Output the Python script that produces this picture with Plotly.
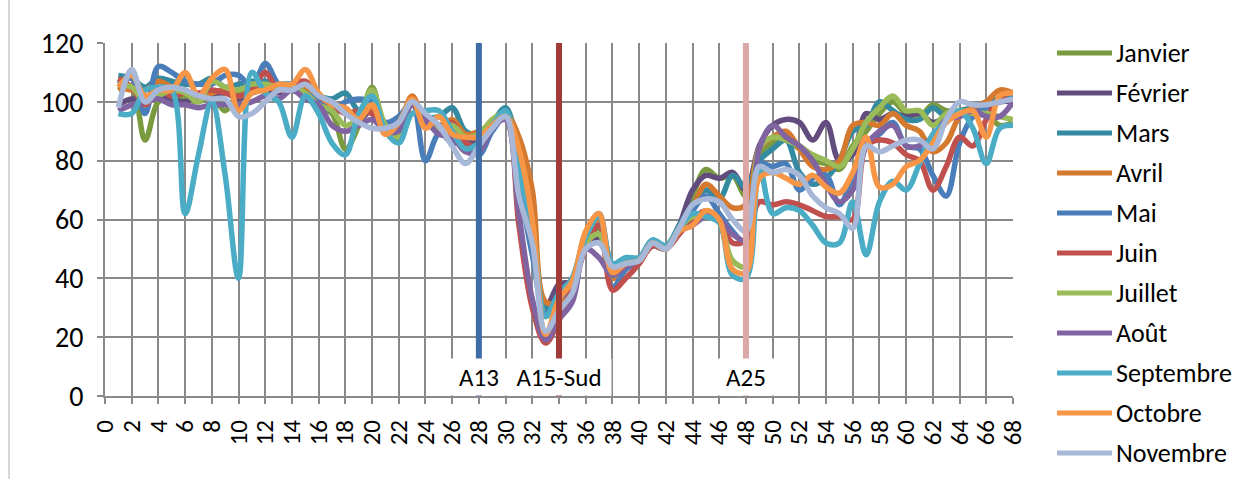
import plotly.graph_objects as go

# Station index along the route (category axis 0..68, measures start at 1)
stations = list(range(1, 69))
tick_values = list(range(0, 69, 2))
tick_labels = [str(v) for v in tick_values]

months = ["Janvier", "Février", "Mars", "Avril", "Mai", "Juin",
          "Juillet", "Août", "Septembre", "Octobre", "Novembre"]
month_colors = ["#7A9A40", "#624C7E", "#348AA0", "#D4792E", "#4A7EBB", "#C0504D",
                "#9BBB59", "#8064A2", "#4BACC6", "#F79646", "#A7B8D8"]

janvier = [104, 105, 87, 100, 101, 101, 100, 102, 97, 103, 104, 106, 105,
           104, 102, 98, 96, 84, 92, 105, 90, 87, 100, 93, 91, 91, 87, 88, 93, 95,
           78, 58, 28, 33, 38, 52, 57, 40, 45, 46, 52, 50, 57,
           68, 77, 74, 75, 68, 82, 86, 87, 84, 80, 79, 77, 85, 90, 96, 100, 96, 95, 99, 97, 97, 95, 96, 92, 93]
fevrier = [99, 101, 100, 102, 101, 100, 102, 101, 103, 101, 103, 104, 103,
           104, 102, 100, 97, 97, 94, 97, 91, 90, 100, 94, 91, 86, 87, 86, 93, 95,
           72, 50, 30, 38, 39, 50, 54, 42, 45, 46, 52, 50, 58,
           70, 75, 74, 76, 70, 85, 92, 94, 93, 87, 93, 80, 82, 96, 94, 96, 95, 96, 93, 95, 97, 97, 98, 100, 100]
mars = [109, 108, 105, 108, 107, 106, 106, 108, 105, 106, 107, 107, 106,
        106, 104, 102, 101, 103, 97, 98, 91, 90, 100, 95, 95, 98, 90, 89, 93, 98,
        82, 62, 30, 34, 40, 55, 62, 45, 47, 47, 53, 51, 58,
        65, 70, 67, 75, 71, 80, 84, 87, 76, 72, 74, 80, 90, 92, 100, 97, 94, 94, 98, 95, 97, 98, 100, 101, 102]
avril = [105, 104, 104, 107, 105, 104, 102, 103, 104, 102, 104, 105, 104,
         104, 105, 101, 99, 97, 95, 98, 89, 92, 102, 93, 91, 94, 89, 90, 93, 96,
         88, 70, 32, 32, 38, 53, 60, 40, 44, 46, 52, 50, 57,
         64, 72, 68, 64, 65, 84, 88, 90, 84, 78, 77, 80, 92, 93, 92, 96, 92, 90, 83, 86, 95, 98, 100, 104, 103]
mai = [106, 108, 96, 112, 110, 107, 106, 106, 109, 109, 105, 113, 106,
       104, 103, 100, 97, 100, 101, 100, 93, 95, 100, 80, 89, 87, 85, 82, 90, 95,
       72, 48, 28, 33, 38, 52, 58, 37, 43, 46, 51, 50, 56,
       63, 68, 62, 56, 52, 79, 78, 79, 70, 74, 75, 65, 75, 86, 89, 93, 85, 84, 75, 68, 86, 95, 98, 100, 101]
juin = [108, 105, 99, 104, 102, 103, 103, 104, 103, 102, 104, 110, 104,
        106, 107, 102, 99, 96, 97, 96, 91, 91, 99, 93, 92, 93, 86, 85, 92, 94,
        58, 30, 18, 26, 37, 50, 58, 36, 40, 45, 51, 50, 55,
        60, 63, 60, 52, 53, 66, 65, 66, 65, 63, 61, 61, 60, 85, 87, 86, 82, 80, 70, 78, 88, 85, 94, 101, 100]
juillet = [106, 105, 100, 102, 104, 103, 100, 107, 105, 104, 106, 106, 105,
           105, 103, 99, 97, 92, 95, 104, 92, 88, 100, 94, 90, 92, 88, 89, 94, 96,
           78, 58, 27, 34, 39, 52, 55, 41, 45, 46, 52, 50, 57,
           61, 61, 59, 46, 44, 84, 88, 87, 85, 82, 80, 78, 84, 93, 98, 102, 97, 97, 92, 96, 97, 96, 96, 95, 94]
aout = [97, 99, 100, 101, 99, 99, 98, 99, 99, 99, 100, 102, 101,
        104, 101, 99, 92, 90, 92, 94, 90, 90, 99, 94, 89, 88, 83, 83, 91, 94,
        62, 33, 19, 26, 32, 50, 47, 41, 44, 46, 52, 50, 56,
        58, 61, 60, 55, 53, 84, 92, 88, 85, 80, 72, 66, 70, 85, 90, 92, 85, 85, 88, 94, 95, 97, 95, 95, 100]
septembre = [96, 96, 104, 105, 104, 62, 82, 100, 75, 40, 110, 103, 100,
             88, 102, 96, 86, 82, 96, 102, 90, 86, 96, 97, 97, 90, 84, 86, 92, 97,
             76, 58, 27, 35, 40, 54, 61, 45, 47, 47, 53, 51, 57,
             62, 61, 59, 41, 40, 78, 62, 64, 63, 58, 52, 52, 66, 48, 66, 73, 70, 79, 89, 93, 97, 91, 79, 91, 92]
octobre = [105, 109, 102, 104, 104, 110, 102, 108, 111, 97, 103, 104, 106,
           106, 111, 103, 99, 98, 94, 99, 89, 93, 101, 91, 95, 89, 88, 88, 92, 95,
           84, 60, 21, 33, 39, 56, 62, 42, 45, 46, 52, 50, 56,
           58, 63, 60, 43, 42, 74, 76, 74, 72, 75, 71, 69, 76, 88, 71, 72, 78, 80, 86, 93, 96, 97, 88, 102, 103]
novembre = [98, 111, 100, 104, 105, 104, 102, 101, 101, 95, 96, 100, 104,
            104, 106, 102, 100, 96, 93, 91, 91, 93, 100, 96, 92, 85, 79, 85, 91, 95,
            68, 52, 22, 29, 35, 50, 52, 44, 45, 46, 52, 50, 57,
            65, 67, 66, 60, 56, 78, 76, 77, 75, 68, 64, 62, 57, 85, 83, 85, 87, 87, 84, 94, 100, 99, 99, 100, 101]

series = [janvier, fevrier, mars, avril, mai, juin,
          juillet, aout, septembre, octobre, novembre]

# Motorway junctions marked along the route
junction_names = ["A13", "A15-Sud", "A25"]
junction_stations = [28, 34, 48]
junction_colors = ["#3D6CA6", "#A03B38", "#DBA8A7"]
junction_box_widths = [62, 104, 56]

FONT = "Carlito, Lato, sans-serif"
W, H = 1255, 479
ML, MR, MT, MB = 105, 242, 43, 83
PW, PH = W - ML - MR, H - MT - MB
GRID = "#8A8A8A"


def px_to_paper_x(px):
    return (px - ML) / PW


def px_to_paper_y(py):
    return (H - MB - py) / PH


fig = go.Figure()
for name, color, values in zip(months, month_colors, series):
    fig.add_trace(go.Scatter(
        x=stations, y=values, name=name, mode="lines",
        line=dict(color=color, width=5.5, shape="spline", smoothing=1.0),
        showlegend=False, hoverinfo="x+y+name"))

shapes = []
annotations = []

# Vertical markers for the junctions, with their white labels at the foot
for name, st, color, bw in zip(junction_names, junction_stations,
                               junction_colors, junction_box_widths):
    shapes.append(dict(type="line", xref="x", yref="y", x0=st, x1=st, y0=0, y1=120,
                       line=dict(color=color, width=6), layer="above"))
    annotations.append(dict(x=st, y=0, xref="x", yref="y", xanchor="center",
                            yanchor="bottom", text=name, showarrow=False,
                            bgcolor="white", width=bw, height=36, borderpad=0,
                            font=dict(family=FONT, size=25, color="black")))

# Legend drawn at the right of the plot
for k, (name, color) in enumerate(zip(months, month_colors)):
    yc = 53 + 40 * k
    shapes.append(dict(type="line", xref="paper", yref="paper",
                       x0=px_to_paper_x(1057), x1=px_to_paper_x(1112),
                       y0=px_to_paper_y(yc), y1=px_to_paper_y(yc),
                       line=dict(color=color, width=5)))
    annotations.append(dict(x=px_to_paper_x(1114), y=px_to_paper_y(yc),
                            xref="paper", yref="paper", xanchor="left",
                            yanchor="middle", text=name, showarrow=False,
                            font=dict(family=FONT, size=26, color="black")))

# Thin frame edge at the left of the chart area
shapes.append(dict(type="line", xref="paper", yref="paper",
                   x0=px_to_paper_x(9), x1=px_to_paper_x(9),
                   y0=px_to_paper_y(0), y1=px_to_paper_y(H),
                   line=dict(color="#C8C8C8", width=1.5)))

axis_common = dict(showgrid=True, gridcolor=GRID, gridwidth=2,
                   zeroline=False, showline=True, linecolor=GRID, linewidth=2,
                   ticks="outside", ticklen=6, tickcolor=GRID, tickwidth=2)

fig.update_layout(
    width=W, height=H,
    margin=dict(l=ML, r=MR, t=MT, b=MB, pad=0),
    paper_bgcolor="white", plot_bgcolor="white",
    showlegend=False,
    shapes=shapes, annotations=annotations,
    xaxis=dict(range=[0, 68], tickmode="array", tickvals=tick_values,
               ticktext=tick_labels, tickangle=-90,
               tickfont=dict(family=FONT, size=25, color="black"),
               ticklabelstandoff=6,
               **axis_common),
    yaxis=dict(range=[0, 120], tick0=0, dtick=20,
               tickfont=dict(family=FONT, size=28, color="black"),
               ticklabelstandoff=8,
               **axis_common),
)

fig.write_html("out.html")
